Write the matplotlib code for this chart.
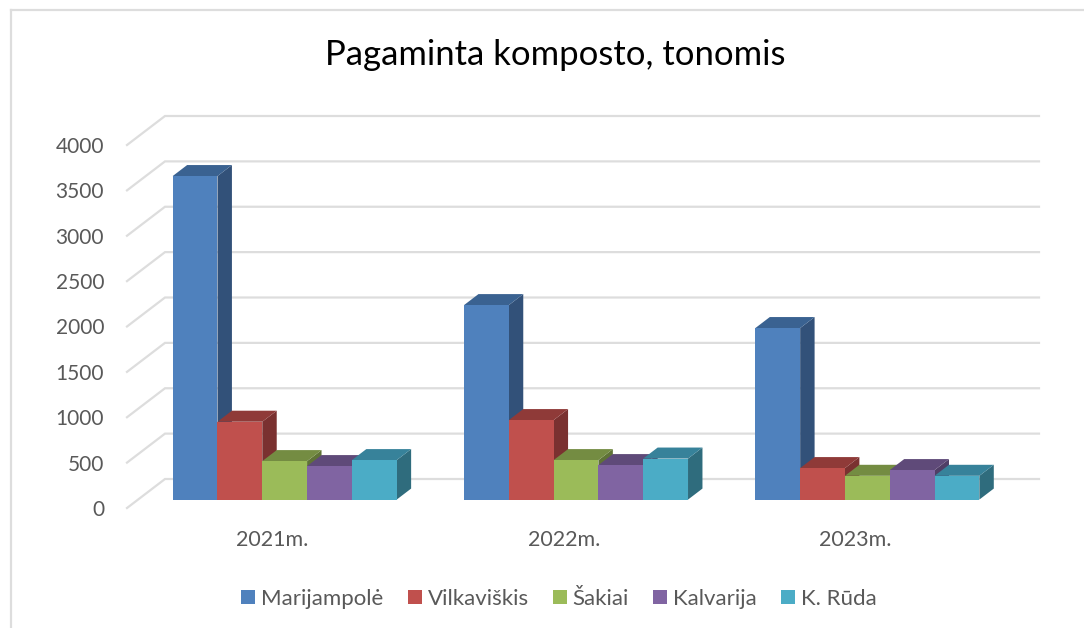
import matplotlib
matplotlib.use("Agg")
import matplotlib.pyplot as plt
from matplotlib.patches import Polygon, Patch
from matplotlib.lines import Line2D

plt.rcParams['font.family'] = ['Lato', 'DejaVu Sans']

title = "Pagaminta komposto, tonomis"
years = ["2021m.", "2022m.", "2023m."]
series_names = ["Marijampolė", "Vilkaviškis", "Šakiai", "Kalvarija", "K. Rūda"]
marijampole = [3565, 2143, 1890]
vilkaviskis = [858, 876, 347]
sakiai = [424, 435, 262]
kalvarija = [369, 380, 325]
k_ruda = [435, 452, 262]
y_ticks = [0, 500, 1000, 1500, 2000, 2500, 3000, 3500, 4000]

series = [marijampole, vilkaviskis, sakiai, kalvarija, k_ruda]
front = ["#4F81BD", "#C0504D", "#9BBB59", "#8064A2", "#4BACC6"]
top = ["#3A6291", "#8F3A38", "#748C42", "#5F4A79", "#37829A"]
side = ["#325179", "#7A3130", "#5F7336", "#503E66", "#2F6C7D"]

W, H = 1084, 628
fig = plt.figure(figsize=(W / 100, H / 100), dpi=100, facecolor="white")
L, R, B, T = 127, 1001, 508, 145
ax = fig.add_axes([L / W, 1 - B / H, (R - L) / W, (B - T) / H])
ax.set_xlim(0, 3)
ax.set_ylim(0, 4000)
ax.patch.set_visible(False)
for s in ax.spines.values():
    s.set_visible(False)

# oblique depth in data units
PX = (R - L) / 3
DX = 38 / PX
DY = 29 / ((B - T) / 4000)
T0, T1 = 0.29, 0.67
GRID = "#DDDDDD"

for v in y_ticks:
    ax.plot([0, DX, 3 + DX], [v, v + DY, v + DY], color=GRID, lw=1.6,
            clip_on=False, zorder=1, solid_joinstyle="miter")

bar_w = 44.8 / PX
gap = (1 - 5 * bar_w) / 2 + 1 / PX


def p(x, y, t):
    return (x + t * DX, y + t * DY)


for g in range(len(years)):
    for i, vals in enumerate(series):
        x0 = g + gap + i * bar_w
        x1 = x0 + bar_w
        v = vals[g]
        z = 3 + g * 5 + i
        ax.add_patch(Polygon([p(x1, 0, T0), p(x1, 0, T1), p(x1, v, T1), p(x1, v, T0)],
                             fc=side[i], ec="none", clip_on=False, zorder=z))
        ax.add_patch(Polygon([p(x0, v, T0), p(x0, v, T1), p(x1, v, T1), p(x1, v, T0)],
                             fc=top[i], ec="none", clip_on=False, zorder=z))
        ax.add_patch(Polygon([p(x0, 0, T0), p(x1, 0, T0), p(x1, v, T0), p(x0, v, T0)],
                             fc=front[i], ec="none", clip_on=False, zorder=z))

ax.set_yticks(y_ticks)
ax.set_xticks([0.5, 1.5, 2.5])
ax.set_xticklabels(years)
ax.tick_params(axis="both", length=0, colors="#595959")
ax.tick_params(axis="y", labelsize=15, pad=16.5)
ax.tick_params(axis="x", labelsize=15.5, pad=15.5)

handles = [Patch(fc=c, ec="none") for c in front]
fig.legend(handles, series_names, loc="center", bbox_to_anchor=(559 / W, 1 - 599 / H),
           ncol=5, frameon=False, fontsize=16, labelcolor="#595959",
           handlelength=0.63, handleheight=0.63, handletextpad=0.27, columnspacing=1.08)

fig.text(555 / W, 1 - 55 / H, title, ha="center", va="center", fontsize=24.9, color="black")

# chart frame
fig.add_artist(Line2D([11 / W, 11 / W], [0, 1 - 10 / H], color=GRID, lw=1.6))
fig.add_artist(Line2D([11 / W, 1], [1 - 10 / H, 1 - 10 / H], color=GRID, lw=1.6))

fig.savefig("out.png", dpi=100, facecolor="white")
